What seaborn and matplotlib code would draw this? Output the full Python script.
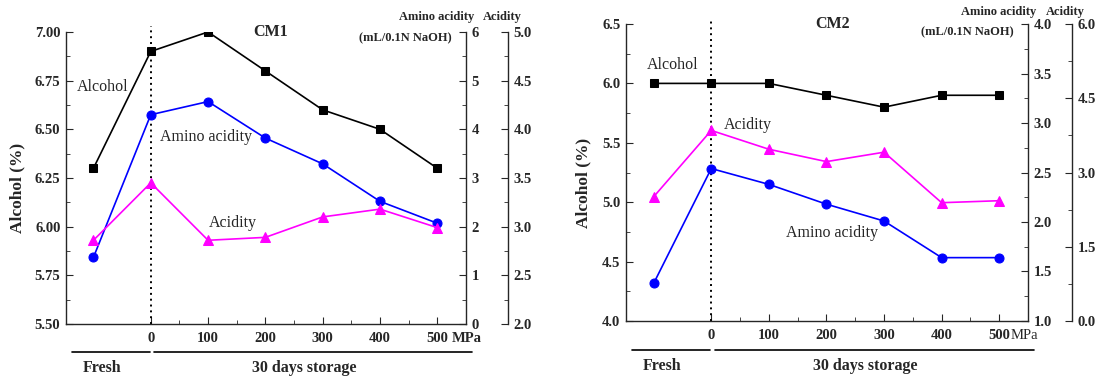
import numpy as np
import pandas as pd
import seaborn as sns
import matplotlib
matplotlib.use("Agg")
import matplotlib.pyplot as plt
from matplotlib.ticker import MultipleLocator, FormatStrFormatter, FixedLocator
from matplotlib.transforms import blended_transform_factory

# data
# the fresh sample sits one step to the left of 0 MPa
pressure = [-100, 0, 100, 200, 300, 400, 500]
pressure_ticks = [0, 100, 200, 300, 400, 500]
pressure_labels = ["0", "100", "200", "300", "400", "500"]

cm1_alcohol = [6.30, 6.90, 7.00, 6.80, 6.60, 6.50, 6.30]
cm1_amino = [1.37, 4.30, 4.57, 3.82, 3.29, 2.52, 2.07]
cm1_acidity = [2.86, 3.45, 2.86, 2.89, 3.10, 3.18, 2.99]

cm2_alcohol = [6.00, 6.00, 6.00, 5.90, 5.80, 5.90, 5.90]
cm2_amino = [1.38, 2.54, 2.38, 2.18, 2.01, 1.64, 1.64]
cm2_acidity = [2.51, 3.85, 3.47, 3.22, 3.41, 2.39, 2.43]

sns.set_style("ticks")
plt.rcParams['font.family'] = ['Liberation Serif', 'DejaVu Serif']
plt.rcParams['font.weight'] = 'bold'
plt.rcParams['axes.linewidth'] = 1.0

fig = plt.figure(figsize=(11.01, 3.78), dpi=100)


def panel(ax, title, alcohol, amino, acidity, lims, steps, fmts, spine_off,
          labels, mpa_x, mpa_bold, head_y, unit_y, ylab_x):
    df = pd.DataFrame({'MPa': pressure, 'alcohol': alcohol,
                       'amino': amino, 'acidity': acidity})
    ax_am = ax.twinx()
    ax_ac = ax.twinx()
    ax_ac.spines['right'].set_position(('axes', spine_off))

    sns.lineplot(data=df, x='MPa', y='alcohol', ax=ax, color='black',
                 marker='s', markersize=6, markeredgecolor='black', lw=1.2)
    sns.lineplot(data=df, x='MPa', y='amino', ax=ax_am, color='blue',
                 marker='o', markersize=6.5, markeredgecolor='blue', lw=1.2)
    sns.lineplot(data=df, x='MPa', y='acidity', ax=ax_ac, color='#ff00ff',
                 marker='^', markersize=7, markeredgecolor='#ff00ff', lw=1.2)

    for a, lim, st, fm in zip([ax, ax_am, ax_ac], lims, steps, fmts):
        a.set_ylim(*lim)
        a.yaxis.set_major_locator(MultipleLocator(st))
        a.yaxis.set_minor_locator(MultipleLocator(st / 2))
        a.yaxis.set_major_formatter(FormatStrFormatter(fm))
        a.set_ylabel('')
        a.set_xlabel('')
        a.spines['top'].set_visible(False)
    for a in [ax_am, ax_ac]:
        a.spines['left'].set_visible(False)
        a.spines['bottom'].set_visible(False)
        a.tick_params(axis='y', which='both', direction='in', right=True,
                      left=False, labelsize=10.5, pad=4)
        a.tick_params(axis='y', which='major', length=5)
        a.tick_params(axis='y', which='minor', length=3)
    ax.spines['right'].set_visible(False)
    ax.tick_params(axis='y', which='both', direction='in', left=True,
                   right=False, labelsize=10.5, pad=4)
    ax.tick_params(axis='y', which='major', length=5)
    ax.tick_params(axis='y', which='minor', length=3)

    ax.set_xlim(-148, 550)
    ax.xaxis.set_major_locator(FixedLocator(pressure_ticks))
    ax.set_xticklabels(pressure_labels)
    ax.xaxis.set_minor_locator(FixedLocator([50, 150, 250, 350, 450]))
    ax.tick_params(axis='x', which='both', direction='in', labelsize=10.5,
                   pad=6, top=False)
    ax.tick_params(axis='x', which='major', length=5)
    ax.tick_params(axis='x', which='minor', length=3)

    ax.set_ylabel('Alcohol (%)', fontsize=12.5, fontweight='bold')
    ax.yaxis.set_label_coords(ylab_x, 0.465)

    ax.axvline(0, ymin=0, ymax=1.02, color='black', ls=(0, (1, 2)),
               lw=1.4, clip_on=False)

    tr = blended_transform_factory(ax.transData, ax.transAxes)
    ax.text(mpa_x, -0.05, 'MPa', transform=tr, ha='center', va='center',
            fontsize=10.5, fontweight='bold' if mpa_bold else 'normal')
    ax.plot([-138, -2], [-0.096, -0.096], color='black', lw=1.2,
            transform=tr, clip_on=False)
    ax.plot([6, 560], [-0.096, -0.096], color='black', lw=1.2,
            transform=tr, clip_on=False)
    ax.text(-85, -0.15, 'Fresh', transform=tr, ha='center', va='center',
            fontsize=11.5)
    ax.text(268, -0.15, '30 days storage', transform=tr, ha='center',
            va='center', fontsize=11.5)

    ax.text(210, 1.0, title, transform=tr, ha='center', va='center',
            fontsize=11.5)
    ax.text(499, head_y, 'Amino acidity', transform=tr, ha='center',
            va='center', fontsize=9, clip_on=False)
    ax.text(614, head_y, 'Acidity', transform=tr, ha='center',
            va='center', fontsize=9, clip_on=False)
    ax.text(444, unit_y, '(mL/0.1N NaOH)', transform=tr, ha='center',
            va='center', fontsize=9)

    for txt, x, y in labels:
        ax.text(x, y, txt, ha='center', va='center', fontsize=11.5,
                fontweight='normal')


ax1 = fig.add_axes([0.0599, 0.1429, 0.3633, 0.7725])
panel(ax1, 'CM1', cm1_alcohol, cm1_amino, cm1_acidity,
      lims=[(5.5, 7.0), (0, 6), (2.0, 5.0)], steps=[0.25, 1, 0.5],
      fmts=['%.2f', '%d', '%.1f'], spine_off=1.105,
      labels=[('Alcohol', -84, 6.715), ('Amino acidity', 96, 6.46),
              ('Acidity', 144, 6.018)],
      mpa_x=551, mpa_bold=True, head_y=1.051, unit_y=0.98, ylab_x=-0.102)

ax2 = fig.add_axes([0.5686, 0.1508, 0.3651, 0.7857])
panel(ax2, 'CM2', cm2_alcohol, cm2_amino, cm2_acidity,
      lims=[(4.0, 6.5), (1.0, 4.0), (0.0, 6.0)], steps=[0.5, 0.5, 1.5],
      fmts=['%.1f', '%.1f', '%.1f'], spine_off=1.109,
      labels=[('Alcohol', -67, 6.154), ('Acidity', 64, 5.65),
              ('Amino acidity', 209, 4.738)],
      mpa_x=543, mpa_bold=False, head_y=1.04, unit_y=0.973, ylab_x=-0.087)

fig.savefig('out.png', dpi=100)
